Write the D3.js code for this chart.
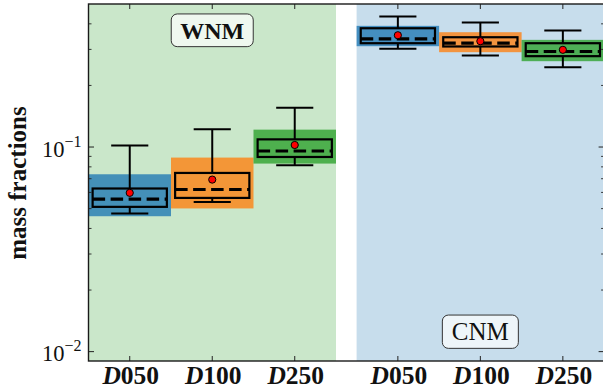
<!DOCTYPE html>
<html>
<head>
<meta charset="utf-8">
<script src="https://cdn.jsdelivr.net/npm/d3@7"></script>
<style>
  html, body { margin: 0; padding: 0; background: #ffffff; }
  svg { display: block; }
  text { font-family: "Liberation Serif", "Times New Roman", serif; fill: #111; }
</style>
</head>
<body>
<svg id="chart" width="603" height="390"></svg>
<script>
// Mass fractions per resolution run, split into warm (WNM) and cold (CNM) phases.
const categories = ["D050", "D100", "D250", "D050", "D100", "D250"];
const phases = ["WNM", "CNM"];
const positions = [1, 2, 3, 4.25, 5.25, 6.25];
const phaseSpans = [[0.5, 3.5], [3.75, 6.75]];
const phaseLabelX = [2, 5.25];

const whiskerLow  = [0.0473, 0.0539, 0.0814, 0.302, 0.280, 0.2456];
const q1          = [0.0510, 0.0564, 0.0894, 0.3216, 0.310, 0.278];
const median      = [0.0556, 0.0620, 0.0956, 0.338, 0.3216, 0.293];
const q3          = [0.0627, 0.0747, 0.1090, 0.3806, 0.344, 0.3216];
const whiskerHigh = [0.1016, 0.1220, 0.1557, 0.434, 0.4058, 0.371];
const means       = [0.0597, 0.0693, 0.1023, 0.3518, 0.329, 0.2986];
const bandLow     = [0.0459, 0.0501, 0.0830, 0.311, 0.2907, 0.2627];
const bandHigh    = [0.0736, 0.0888, 0.1216, 0.391, 0.364, 0.334];

const yMajorTicks = [0.01, 0.1];
const yMinorTicks = [0.02, 0.03, 0.04, 0.05, 0.06, 0.07, 0.08, 0.09, 0.2, 0.3, 0.4];
const yTickExponents = ["−2", "−1"];

const runColors = ["#1f77b4", "#ff7f0e", "#2ca02c"];
const phaseColors = ["#2ca02c", "#1f77b4"];

const svg = d3.select("#chart");
const plotL = 88.5, plotR = 604.1, plotT = 4, plotB = 361;

const x = d3.scaleLinear().domain([0.5, 6.75]).range([plotL, plotR]);
const y = d3.scaleLog().domain([0.009, 0.5]).range([plotB, plotT]);

// phase backgrounds
svg.append("g").selectAll("rect").data(phaseSpans).join("rect")
  .attr("x", d => x(d[0])).attr("width", d => x(d[1]) - x(d[0]))
  .attr("y", plotT).attr("height", plotB - plotT)
  .attr("fill", (d, i) => phaseColors[i]).attr("fill-opacity", 0.25);

const idx = d3.range(positions.length);
const boxHalf = 0.45, capHalf = 0.225;

// coloured bands behind each box
svg.append("g").selectAll("rect").data(idx).join("rect")
  .attr("x", i => x(positions[i] - 0.5))
  .attr("width", i => x(positions[i] + 0.5) - x(positions[i] - 0.5))
  .attr("y", i => y(bandHigh[i]))
  .attr("height", i => y(bandLow[i]) - y(bandHigh[i]))
  .attr("fill", i => runColors[i % 3]).attr("fill-opacity", 0.78);

const boxes = svg.append("g").attr("stroke", "#000").attr("fill", "none");

// whiskers
boxes.selectAll("line.wh").data(idx).join("line").attr("class", "wh")
  .attr("x1", i => x(positions[i])).attr("x2", i => x(positions[i]))
  .attr("y1", i => y(q3[i])).attr("y2", i => y(whiskerHigh[i]))
  .attr("stroke-width", 2);
boxes.selectAll("line.wl").data(idx).join("line").attr("class", "wl")
  .attr("x1", i => x(positions[i])).attr("x2", i => x(positions[i]))
  .attr("y1", i => y(q1[i])).attr("y2", i => y(whiskerLow[i]))
  .attr("stroke-width", 2);
// caps
[whiskerHigh, whiskerLow].forEach(arr => {
  boxes.append("g").selectAll("line").data(idx).join("line")
    .attr("x1", i => x(positions[i] - capHalf)).attr("x2", i => x(positions[i] + capHalf))
    .attr("y1", i => y(arr[i])).attr("y2", i => y(arr[i]))
    .attr("stroke-width", 2);
});
// boxes
boxes.append("g").selectAll("rect").data(idx).join("rect")
  .attr("x", i => x(positions[i] - boxHalf))
  .attr("width", i => x(positions[i] + boxHalf) - x(positions[i] - boxHalf))
  .attr("y", i => y(q3[i])).attr("height", i => y(q1[i]) - y(q3[i]))
  .attr("stroke-width", 2.2);
// medians
boxes.append("g").selectAll("line").data(idx).join("line")
  .attr("x1", i => x(positions[i] - boxHalf)).attr("x2", i => x(positions[i] + boxHalf))
  .attr("y1", i => y(median[i])).attr("y2", i => y(median[i]))
  .attr("stroke-width", 3.2).attr("stroke-dasharray", "12.5,5.5");
// means
svg.append("g").selectAll("circle").data(idx).join("circle")
  .attr("cx", i => x(positions[i])).attr("cy", i => y(means[i]))
  .attr("r", 3.6).attr("fill", "#ff0000").attr("stroke", "#000").attr("stroke-width", 1);

// axes with inward ticks on all four sides
const tickColor = "#222";
const axisG = svg.append("g").attr("stroke", tickColor);
const majY = 5.5, minY = 3, majX = 5;
yMajorTicks.forEach(v => {
  axisG.append("line").attr("x1", plotL).attr("x2", plotL + majY).attr("y1", y(v)).attr("y2", y(v)).attr("stroke-width", 1);
  axisG.append("line").attr("x1", plotR).attr("x2", plotR - majY).attr("y1", y(v)).attr("y2", y(v)).attr("stroke-width", 1);
});
yMinorTicks.forEach(v => {
  axisG.append("line").attr("x1", plotL).attr("x2", plotL + minY).attr("y1", y(v)).attr("y2", y(v)).attr("stroke-width", 0.9);
  axisG.append("line").attr("x1", plotR).attr("x2", plotR - minY).attr("y1", y(v)).attr("y2", y(v)).attr("stroke-width", 0.9);
});
positions.forEach(p => {
  axisG.append("line").attr("x1", x(p)).attr("x2", x(p)).attr("y1", plotB).attr("y2", plotB - majX).attr("stroke-width", 1);
  axisG.append("line").attr("x1", x(p)).attr("x2", x(p)).attr("y1", plotT).attr("y2", plotT + majX).attr("stroke-width", 1);
});
svg.append("rect").attr("x", plotL).attr("y", plotT)
  .attr("width", plotR - plotL).attr("height", plotB - plotT)
  .attr("fill", "none").attr("stroke", "#1a1a1a").attr("stroke-width", 1.4);

// y tick labels as powers of ten
yMajorTicks.forEach((v, k) => {
  const t = svg.append("text").attr("x", plotL - 7).attr("y", y(v) + 9.5)
    .attr("text-anchor", "end").style("font-size", "22.5px");
  t.append("tspan").text("10");
  t.append("tspan").attr("dy", -10).style("font-size", "16px").text(yTickExponents[k]);
});

// x tick labels: italic D followed by run number
positions.forEach((p, i) => {
  const t = svg.append("text").attr("x", x(p) + 1).attr("y", 383.5)
    .attr("text-anchor", "middle").style("font-size", "25.5px").style("font-weight", "bold");
  t.append("tspan").style("font-style", "italic").text(categories[i].slice(0, 1));
  t.append("tspan").text(categories[i].slice(1));
});

// y axis title
svg.append("text").attr("transform", "translate(26,183) rotate(-90)")
  .attr("text-anchor", "middle").style("font-size", "25px").style("font-weight", "bold")
  .text("mass fractions");

// phase labels in rounded boxes
const labelBoxes = [
  { cy: 30.3, w: 82, h: 32.7, weight: "bold", size: 24 },
  { cy: 331.7, w: 76, h: 33.3, weight: "normal", size: 25 }
];
phases.forEach((name, k) => {
  const b = labelBoxes[k];
  const cx = x(phaseLabelX[k]);
  svg.append("rect").attr("x", cx - b.w / 2).attr("y", b.cy - b.h / 2)
    .attr("width", b.w).attr("height", b.h).attr("rx", 6)
    .attr("fill", "#ffffff").attr("fill-opacity", 0.7)
    .attr("stroke", "#333").attr("stroke-width", 1);
  svg.append("text").attr("x", cx).attr("y", b.cy + 8.5)
    .attr("text-anchor", "middle").style("font-size", b.size + "px").style("font-weight", b.weight)
    .text(name);
});
</script>
</body>
</html>
